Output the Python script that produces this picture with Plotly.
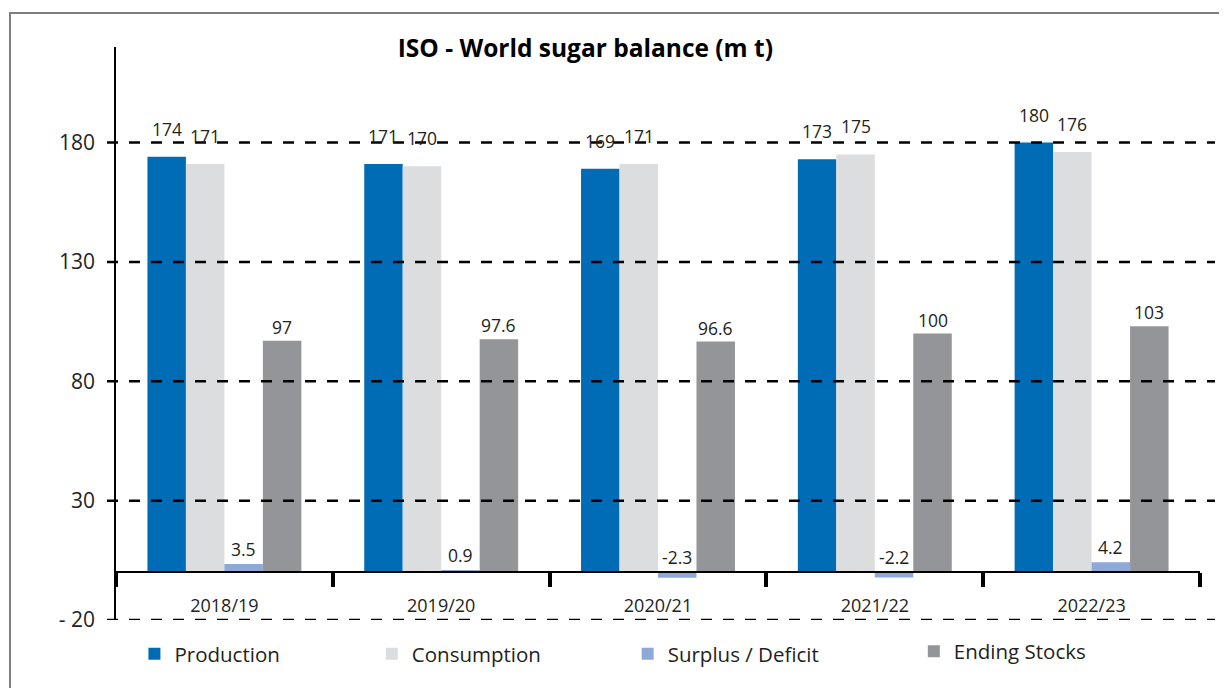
import plotly.graph_objects as go

categories = ["2018/19", "2019/20", "2020/21", "2021/22", "2022/23"]
production = [174, 171, 169, 173, 180]
consumption = [171, 170, 171, 175, 176]
surplus = [3.5, 0.9, -2.3, -2.2, 4.2]
ending_stocks = [97, 97.6, 96.6, 100, 103]
ytick_vals = [180, 130, 80, 30, -20]
ytick_text = ["180", "130", "80", "30", "- 20"]

series = [
    ("Production", production, "#006CB5", 14),
    ("Consumption", consumption, "#DCDDDF", 14),
    ("Surplus / Deficit", surplus, "#8EA9D8", 1),
    ("Ending Stocks", ending_stocks, "#939598", 0),
]
legend_x = [0.017, 0.236, 0.472, 0.736]
legend_y = [-0.059, -0.059, -0.059, -0.055]

FONT = "Open Sans"
TXT = "#231F20"
BARGAP = 0.29

fig = go.Figure()
for k, (name, vals, color, _) in enumerate(series):
    fig.add_trace(go.Bar(name=name, x=categories, y=vals, marker_color=color,
                         marker_line_width=0, showlegend=True,
                         legend="legend" if k == 0 else f"legend{k+1}"))

annotations = []
bw = (1 - BARGAP) / len(series)
for k, (name, vals, color, ysh) in enumerate(series):
    for i, v in enumerate(vals):
        annotations.append(dict(
            x=i + (k - 1.5) * bw, y=max(v, 0), xref="x", yref="y",
            text=f"{v:g}", showarrow=False, yanchor="bottom", yshift=ysh,
            font=dict(family=FONT, size=17.5, color=TXT)))

shapes = []
for v in ytick_vals:
    shapes.append(dict(type="line", xref="paper", yref="y",
                       x0=-0.0083, x1=1.0138, y0=v, y1=v, layer="above",
                       line=dict(color="black", width=2.5, dash="11px,11px")))
# outer frame
shapes.append(dict(type="rect", xref="paper", yref="paper",
                   x0=-0.0978, x1=1.04, y0=-0.2, y1=1.0593, layer="below",
                   line=dict(color="#7F7F7F", width=2)))

legend_common = dict(orientation="h", xanchor="left", yanchor="middle",
                     bgcolor="rgba(0,0,0,0)",
                     font=dict(family=FONT, size=20.5, color=TXT))
legends = {}
for k in range(4):
    key = "legend" if k == 0 else f"legend{k+1}"
    legends[key] = dict(legend_common, x=legend_x[k], y=legend_y[k])

fig.update_layout(
    width=1227, height=688, showlegend=True,
    margin=dict(l=108, r=35, t=39, b=76),
    paper_bgcolor="white", plot_bgcolor="white",
    barmode="group", bargap=BARGAP, bargroupgap=0,
    title=dict(text="<b>ISO - World sugar balance (m t)</b>", x=0.433, xref="paper",
               xanchor="center", y=1 - 40 / 688, yanchor="middle",
               font=dict(family=FONT, size=24.5, color="black")),
    font=dict(family=FONT, color=TXT),
    xaxis=dict(type="category", anchor="free", position=20 / 240,
               showline=True, linecolor="black", linewidth=2,
               ticks="outside", tickson="boundaries", ticklen=14, tickwidth=4,
               tickcolor="black", showgrid=False, ticklabelstandoff=17,
               tickfont=dict(family=FONT, size=18, color=TXT)),
    yaxis=dict(range=[-20, 220], tickvals=ytick_vals, ticktext=ytick_text,
               showgrid=False, zeroline=False, showline=True,
               linecolor="black", linewidth=1.5, ticks="",
               ticklabelstandoff=15,
               tickfont=dict(family=FONT, size=21, color=TXT)),
    annotations=annotations,
    shapes=shapes,
    **legends,
)

fig.write_html("out.html")
